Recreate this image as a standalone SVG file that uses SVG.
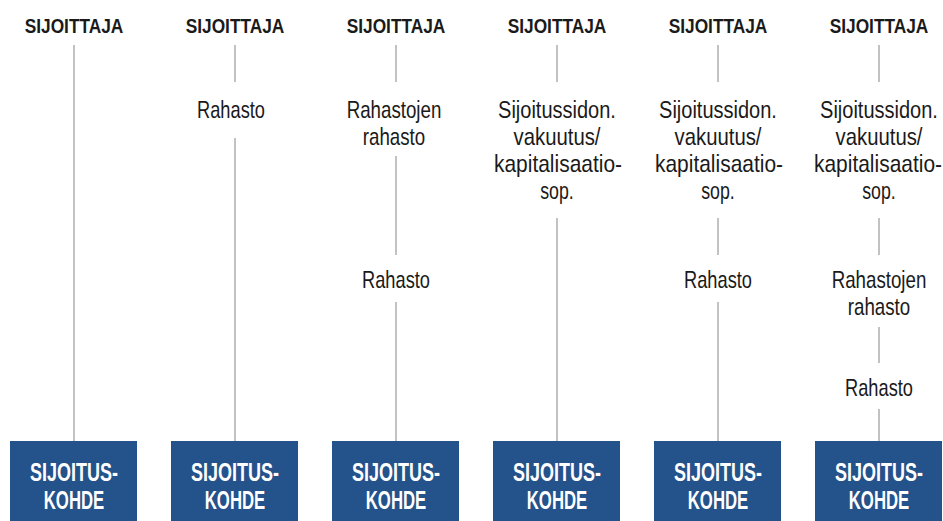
<svg xmlns="http://www.w3.org/2000/svg" width="943" height="521" viewBox="0 0 943 521">
<style>
.t{font-family:"Liberation Sans",Arial,sans-serif;font-size:24px;fill:#1a1a1a;text-anchor:middle}
.h{font-weight:bold;font-size:21px}
.b{font-family:"Liberation Sans",Arial,sans-serif;font-size:25px;font-weight:bold;fill:#ffffff;text-anchor:middle}
.box{fill:#24528a}
.c line{stroke:#b3b3b3;stroke-width:1.6}
</style>
<rect width="943" height="521" fill="#ffffff"/>
<g class="c" id="connectors">
<line x1="74" y1="45" x2="74" y2="441"/>
<line x1="235" y1="45" x2="235" y2="82"/><line x1="235" y1="138" x2="235" y2="441"/>
<line x1="396" y1="45" x2="396" y2="82"/><line x1="396" y1="156" x2="396" y2="255"/><line x1="396" y1="302" x2="396" y2="441"/>
<line x1="557" y1="45" x2="557" y2="82"/><line x1="557" y1="218" x2="557" y2="441"/>
<line x1="718" y1="45" x2="718" y2="82"/><line x1="718" y1="218" x2="718" y2="255"/><line x1="718" y1="302" x2="718" y2="441"/>
<line x1="879" y1="45" x2="879" y2="82"/><line x1="879" y1="218" x2="879" y2="255"/><line x1="879" y1="327" x2="879" y2="363"/><line x1="879" y1="409" x2="879" y2="441"/>
</g>
<g id="sijoittaja1"><text class="t h" transform="translate(74 33) scale(0.824 1)">SIJOITTAJA</text></g>
<g id="sijoittaja2"><text class="t h" transform="translate(235 33) scale(0.824 1)">SIJOITTAJA</text></g>
<g id="sijoittaja3"><text class="t h" transform="translate(396 33) scale(0.824 1)">SIJOITTAJA</text></g>
<g id="sijoittaja4"><text class="t h" transform="translate(557 33) scale(0.824 1)">SIJOITTAJA</text></g>
<g id="sijoittaja5"><text class="t h" transform="translate(718 33) scale(0.824 1)">SIJOITTAJA</text></g>
<g id="sijoittaja6"><text class="t h" transform="translate(879 33) scale(0.824 1)">SIJOITTAJA</text></g>
<g id="rahasto2"><text class="t" transform="translate(231 118) scale(0.76 1)">Rahasto</text></g>
<g id="rahastojen3"><text class="t" transform="translate(394 118) scale(0.78 1)">Rahastojen</text><text class="t" transform="translate(394 145) scale(0.78 1)">rahasto</text></g>
<g id="rahasto3"><text class="t" transform="translate(396 288) scale(0.76 1)">Rahasto</text></g>
<g id="vakuutus4"><text class="t" transform="translate(557 118) scale(0.834 1)">Sijoitussidon.</text><text class="t" transform="translate(557 145) scale(0.847 1)">vakuutus/</text><text class="t" transform="translate(558 172) scale(0.873 1)">kapitalisaatio-</text><text class="t" transform="translate(557 199) scale(0.74 1)">sop.</text></g>
<g id="vakuutus5"><text class="t" transform="translate(718 118) scale(0.834 1)">Sijoitussidon.</text><text class="t" transform="translate(718 145) scale(0.847 1)">vakuutus/</text><text class="t" transform="translate(719 172) scale(0.873 1)">kapitalisaatio-</text><text class="t" transform="translate(718 199) scale(0.74 1)">sop.</text></g>
<g id="rahasto5"><text class="t" transform="translate(718 288) scale(0.76 1)">Rahasto</text></g>
<g id="vakuutus6"><text class="t" transform="translate(879 118) scale(0.834 1)">Sijoitussidon.</text><text class="t" transform="translate(879 145) scale(0.847 1)">vakuutus/</text><text class="t" transform="translate(878 172) scale(0.873 1)">kapitalisaatio-</text><text class="t" transform="translate(879 199) scale(0.74 1)">sop.</text></g>
<g id="rahastojen6"><text class="t" transform="translate(879 288) scale(0.78 1)">Rahastojen</text><text class="t" transform="translate(879 315) scale(0.78 1)">rahasto</text></g>
<g id="rahasto6"><text class="t" transform="translate(879 396) scale(0.76 1)">Rahasto</text></g>
<g id="kohde1"><rect class="box" x="10" y="441" width="127" height="80"/><text class="b" transform="translate(74 481) scale(0.72 1)">SIJOITUS-</text><text class="b" transform="translate(74 509) scale(0.67 1)">KOHDE</text></g>
<g id="kohde2"><rect class="box" x="171" y="441" width="127" height="80"/><text class="b" transform="translate(235 481) scale(0.72 1)">SIJOITUS-</text><text class="b" transform="translate(235 509) scale(0.67 1)">KOHDE</text></g>
<g id="kohde3"><rect class="box" x="332" y="441" width="127" height="80"/><text class="b" transform="translate(396 481) scale(0.72 1)">SIJOITUS-</text><text class="b" transform="translate(396 509) scale(0.67 1)">KOHDE</text></g>
<g id="kohde4"><rect class="box" x="493" y="441" width="127" height="80"/><text class="b" transform="translate(557 481) scale(0.72 1)">SIJOITUS-</text><text class="b" transform="translate(557 509) scale(0.67 1)">KOHDE</text></g>
<g id="kohde5"><rect class="box" x="654" y="441" width="127" height="80"/><text class="b" transform="translate(718 481) scale(0.72 1)">SIJOITUS-</text><text class="b" transform="translate(718 509) scale(0.67 1)">KOHDE</text></g>
<g id="kohde6"><rect class="box" x="815" y="441" width="127" height="80"/><text class="b" transform="translate(879 481) scale(0.72 1)">SIJOITUS-</text><text class="b" transform="translate(879 509) scale(0.67 1)">KOHDE</text></g>
</svg>
